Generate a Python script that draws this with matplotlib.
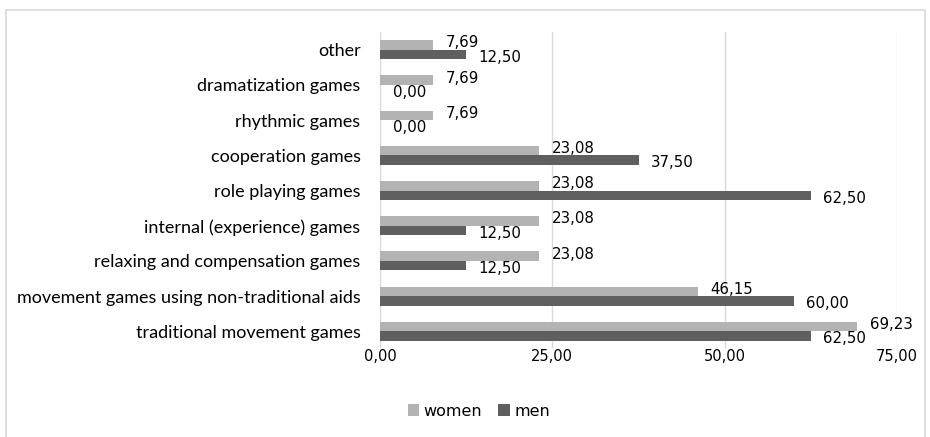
import matplotlib
matplotlib.use("Agg")
import matplotlib.pyplot as plt
from matplotlib.patches import Rectangle
from matplotlib import font_manager as fm

categories = ["other", "dramatization games", "rhythmic games", "cooperation games",
              "role playing games", "internal (experience) games",
              "relaxing and compensation games",
              "movement games using non-traditional aids",
              "traditional movement games"]
women = [7.69, 7.69, 7.69, 23.08, 23.08, 23.08, 23.08, 46.15, 69.23]
men = [12.50, 0.00, 0.00, 37.50, 62.50, 12.50, 12.50, 60.00, 62.50]
xticks = [0, 25, 50, 75]
series_names = ["women", "men"]

names = {f.name for f in fm.fontManager.ttflist}
cat_font = "Liberation Sans Narrow" if "Liberation Sans Narrow" in names else "Lato"

fig = plt.figure(figsize=(9.3, 4.37), dpi=100)
fig.patches.append(Rectangle((6/930, -0.05), 919/930, 1.05 - 10/437, transform=fig.transFigure,
                             fill=False, edgecolor="#d9d9d9", linewidth=1.2))
ax = fig.add_axes([380/930, 1 - 348/437, 517/930, 316/437])

n = len(categories)
ypos = [n - 1 - i for i in range(n)]
h = 0.27
c_w, c_m = "#b3b3b3", "#5f5f5f"
bw = ax.barh([y + h/2 for y in ypos], women, height=h, color=c_w, label=series_names[0], zorder=3)
bm = ax.barh([y - h/2 for y in ypos], men, height=h, color=c_m, label=series_names[1], zorder=3)

fmt = lambda v: f"{v:.2f}".replace(".", ",")
lw = ax.bar_label(bw, labels=[fmt(v) for v in women], padding=9, fontsize=10.8, family="DejaVu Sans", color="#000000")
lm = ax.bar_label(bm, labels=[fmt(v) for v in men], padding=9, fontsize=10.8, family="DejaVu Sans", color="#000000")
for t in lw:
    t.xyann = (t.xyann[0], t.xyann[1] + 1.5)
for t in lm:
    t.xyann = (t.xyann[0], t.xyann[1] - 2)

ax.set_xlim(0, 75)
ax.set_ylim(-0.47, n - 0.5)
ax.set_xticks(xticks)
ax.set_xticklabels([fmt(v) for v in xticks], fontsize=10.5, family="DejaVu Sans")
ax.set_yticks(ypos)
ax.set_yticklabels(categories, fontsize=13, family=cat_font)
ax.tick_params(axis="both", length=0)
ax.tick_params(axis="y", pad=14)
ax.tick_params(axis="x", pad=1)
ax.grid(axis="x", color="#d9d9d9", linewidth=1, zorder=0)
for s in ax.spines.values():
    s.set_visible(False)

fig.legend(handles=[bw, bm], labels=series_names, loc="center", bbox_to_anchor=(479/930, 1 - 411/437),
           ncol=2, frameon=False, handlelength=0.7, handleheight=0.7,
           handletextpad=0.3, columnspacing=1.0, prop={"family": "DejaVu Sans", "size": 11.5})

fig.savefig("out.png", dpi=100)
